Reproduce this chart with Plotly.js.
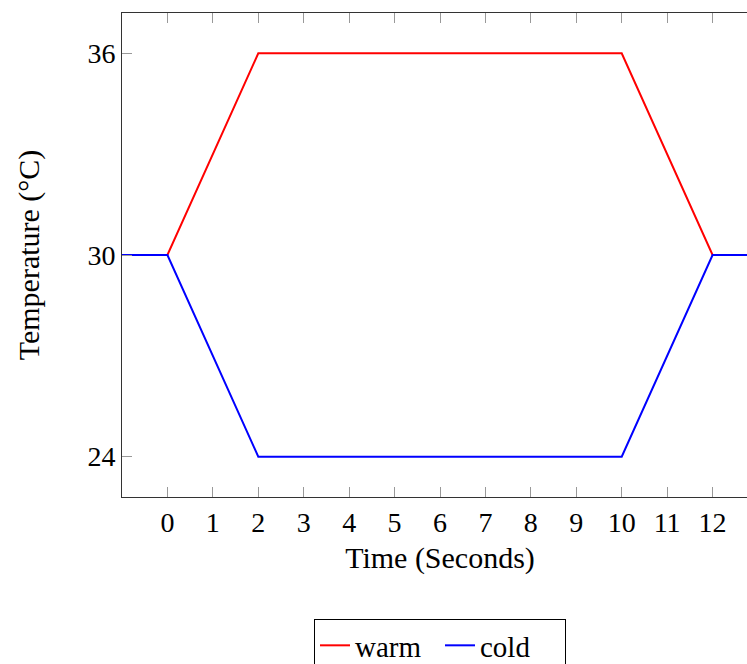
<!DOCTYPE html>
<html>
<head>
<meta charset="utf-8">
<script src="https://cdn.plot.ly/plotly-3.0.1.min.js"></script>
<style>
html,body{margin:0;padding:0;overflow:hidden;background:#fff;}
#chart{width:800px;height:664px;}
</style>
</head>
<body>
<div id="chart"></div>
<script>
const timeSec = [-1, 0, 2, 10, 12, 13];
const warmTemp = [30, 30, 36, 36, 30, 30];
const coldTemp = [30, 30, 24, 24, 30, 30];
const xTicks = [0,1,2,3,4,5,6,7,8,9,10,11,12];
const yTicks = [24, 30, 36];
const seriesNames = ["warm", "cold"];

const serif = "Liberation Serif, Times New Roman, serif";

const traces = [
  {x: timeSec, y: warmTemp, name: seriesNames[0], mode: "lines", line: {color: "#ff0000", width: 2}},
  {x: timeSec, y: coldTemp, name: seriesNames[1], mode: "lines", line: {color: "#0000ff", width: 2}}
];

const layout = {
  width: 800, height: 664,
  margin: {l: 122, r: 42, t: 13, b: 167, autoexpand: false},
  paper_bgcolor: "#fff", plot_bgcolor: "#fff",
  font: {family: serif, color: "#000"},
  showlegend: true,
  xaxis: {
    range: [-1, 13], tickvals: xTicks, ticktext: xTicks.map(String),
    showgrid: false, zeroline: false, automargin: false,
    showline: true, linecolor: "#333", linewidth: 1, mirror: "ticks",
    ticks: "inside", ticklen: 10, tickcolor: "#999", tickwidth: 1,
    tickfont: {family: serif, size: 28},
    title: {text: "Time (Seconds)", font: {family: serif, size: 30}, standoff: 10}
  },
  yaxis: {
    range: [22.8, 37.2], tickvals: yTicks, ticktext: yTicks.map(String),
    showgrid: false, zeroline: false, automargin: false,
    showline: true, linecolor: "#333", linewidth: 1, mirror: "ticks",
    ticks: "inside", ticklen: 10, tickcolor: "#999", tickwidth: 1,
    tickfont: {family: serif, size: 28},
    title: {text: "Temperature (°C)", font: {family: serif, size: 30}, standoff: 38}
  },
  legend: {
    orientation: "h", x: 0.5, xanchor: "center", y: -0.252, yanchor: "top",
    bordercolor: "#000", borderwidth: 1, bgcolor: "#fff",
    font: {family: serif, size: 29}, traceorder: "normal",
    itemwidth: 30, tracegroupgap: 0, entrywidth: 80, entrywidthmode: "pixels"
  }
};

Plotly.newPlot("chart", traces, layout, {displayModeBar: false, staticPlot: true});
</script>
</body>
</html>
